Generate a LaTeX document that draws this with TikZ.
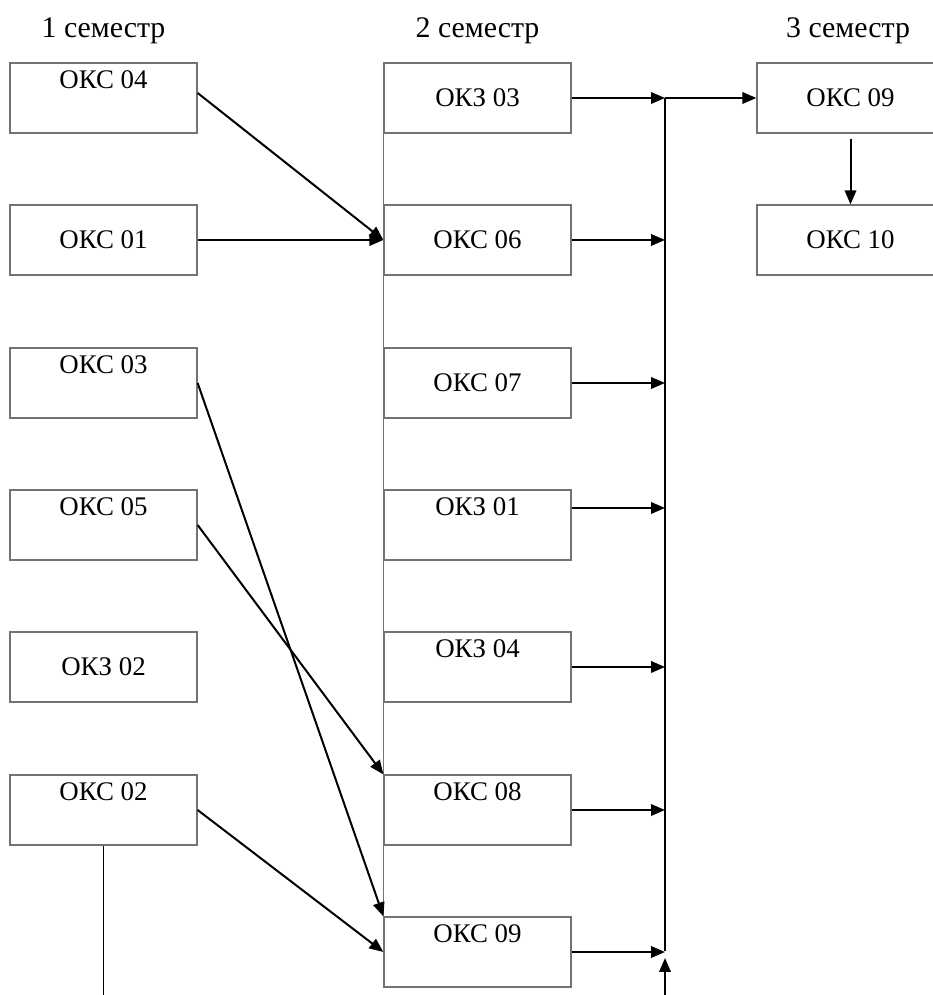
\documentclass[tikz,border=0pt]{standalone}
\usepackage{fontspec}
\setmainfont{Liberation Serif}
\usetikzlibrary{arrows.meta}
\tikzset{
    box/.style={draw=gray!90!black, line width=.25mm, minimum width=3.74cm, minimum height=1.4cm, inner sep=0pt, font=\fontsize{15.3}{18}\selectfont},
    topbox/.style={box, text height=.52cm, text depth=.88cm},
    head/.style={font=\fontsize{17}{20}\selectfont},
    arr/.style={line width=.4mm, -{Triangle[length=2.8mm,width=2.3mm]}}
}
\begin{document}
\begin{tikzpicture}
        \clip (0,0) rectangle (18.66,19.9);
        \node[head] (sem1) at (2.07,19.28) {1 семестр};
        \node[head] (sem2) at (9.55,19.28) {2 семестр};
        \node[head] (sem3) at (16.96,19.28) {3 семестр};
        % 1 semester
        \node[topbox] (okc04) at (2.07,17.94) {ОКС 04};
        \node[box] (okc01) at (2.07,15.1) {ОКС 01};
        \node[topbox] (okc03) at (2.07,12.24) {ОКС 03};
        \node[topbox] (okc05) at (2.07,9.4) {ОКС 05};
        \node[box] (okz02) at (2.07,6.56) {ОКЗ 02};
        \node[topbox] (okc02) at (2.07,3.7) {ОКС 02};
        % 2 semester
        \node[box] (okz03) at (9.55,17.94) {ОКЗ 03};
        \node[box] (okc06) at (9.55,15.1) {ОКС 06};
        \node[box] (okc07) at (9.55,12.24) {ОКС 07};
        \node[topbox] (okz01) at (9.55,9.4) {ОКЗ 01};
        \node[topbox] (okz04) at (9.55,6.56) {ОКЗ 04};
        \node[topbox] (okc08) at (9.55,3.7) {ОКС 08};
        \node[topbox] (okc09) at (9.55,0.86) {ОКС 09};
        % 3 semester
        \node[box] (okc09x) at (17.01,17.94) {ОКС 09};
        \node[box] (okc10) at (17.01,15.1) {ОКС 10};
        \draw[gray!90!black, line width=.25mm] (okz03.south west) -- (okc09.north west);
        % bus
        \coordinate (bustop) at (13.3,17.94);
        \coordinate (busend) at (13.3,0.88);
        \coordinate (busin) at (13.3,0);
        \coordinate (busup) at (13.3,0.74);
        \coordinate (okz01out) at ([yshift=.34cm]okz01.east);
        \draw[line width=.4mm] (bustop) -- (busend);
        \draw[arr] (okz03.east) -- (bustop);
        \draw[arr] (bustop) -- (okc09x.west);
        \draw[arr] (okc06.east) -- (okc06.east -| bustop);
        \draw[arr] (okc07.east) -- (okc07.east -| bustop);
        \draw[arr] (okz01out) -- (okz01out -| bustop);
        \draw[arr] (okz04.east) -- (okz04.east -| bustop);
        \draw[arr] (okc08.east) -- (okc08.east -| bustop);
        \draw[arr] (okc09.east) -- (okc09.east -| bustop);
        \draw[arr] (busin) -- (busup);
        % 1 -> 2
        \coordinate (okc02out) at (2.07,0);
        \draw[line width=.3mm] (okc02.south) -- (okc02out);
        \draw[arr] ([yshift=.1cm]okc04.east) -- (okc06.west);
        \draw[arr] (okc01.east) -- (okc06.west);
        \draw[arr] (okc03.east) -- (okc09.north west);
        \draw[arr] (okc05.east) -- (okc08.north west);
        \draw[arr] (okc02.east) -- (okc09.west);
        \draw[arr] ([yshift=-.1cm]okc09x.south) -- (okc10.north);
\end{tikzpicture}
\end{document}
